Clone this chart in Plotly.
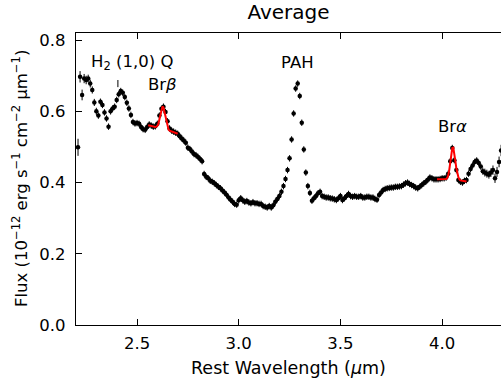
import plotly.graph_objects as go

# Spectrum (rest wavelength in micron, flux in 1e-12 erg/s/cm2/um)
wave = [round(2.21 + 0.01 * i, 2) for i in range(209)]
flux = [
    0.499, 0.697, 0.646, 0.692, 0.688, 0.692, 0.678, 0.660, 0.625, 0.600,
    0.588, 0.627, 0.618, 0.597, 0.580, 0.557, 0.600, 0.608, 0.613, 0.632,
    0.648, 0.657, 0.652, 0.640, 0.624, 0.608, 0.590, 0.570, 0.566, 0.567,
    0.565, 0.556, 0.550, 0.548, 0.556, 0.563, 0.560, 0.557, 0.558, 0.565,
    0.588, 0.607, 0.613, 0.598, 0.572, 0.552, 0.546, 0.543, 0.540, 0.537,
    0.530, 0.524, 0.518, 0.512, 0.498, 0.494, 0.487, 0.480, 0.477, 0.472,
    0.466, 0.460, 0.424, 0.416, 0.412, 0.405, 0.402, 0.398, 0.393, 0.388,
    0.384, 0.378, 0.372, 0.366, 0.358, 0.352, 0.346, 0.340, 0.338, 0.350,
    0.356, 0.350, 0.346, 0.348, 0.344, 0.342, 0.345, 0.342, 0.342, 0.340,
    0.340, 0.334, 0.332, 0.330, 0.334, 0.330, 0.336, 0.346, 0.354, 0.362,
    0.374, 0.390, 0.410, 0.435, 0.468, 0.521, 0.594, 0.664, 0.678, 0.643,
    0.568, 0.493, 0.428, 0.390, 0.371, 0.349, 0.356, 0.362, 0.370, 0.374,
    0.362, 0.360, 0.358, 0.358, 0.356, 0.355, 0.353, 0.351, 0.356, 0.362,
    0.351, 0.356, 0.362, 0.368, 0.362, 0.360, 0.362, 0.360, 0.360, 0.362,
    0.358, 0.358, 0.360, 0.360, 0.358, 0.358, 0.354, 0.352, 0.365, 0.372,
    0.379, 0.382, 0.384, 0.385, 0.386, 0.386, 0.388, 0.388, 0.389, 0.390,
    0.394, 0.398, 0.400, 0.396, 0.393, 0.390, 0.386, 0.384, 0.388, 0.393,
    0.398, 0.402, 0.408, 0.414, 0.412, 0.409, 0.409, 0.409, 0.410, 0.412,
    0.412, 0.414, 0.425, 0.460, 0.497, 0.463, 0.435, 0.407, 0.402, 0.400,
    0.405, 0.407, 0.425, 0.438, 0.448, 0.458, 0.462, 0.455, 0.445, 0.432,
    0.428, 0.425, 0.422, 0.428, 0.435, 0.412, 0.430, 0.458, 0.490,
]
flux_err = [
    0.024, 0.016, 0.015, 0.013, 0.012, 0.011, 0.011, 0.010, 0.010, 0.010,
] + [0.009] * 189 + [0.010, 0.011, 0.011, 0.011, 0.012, 0.013, 0.013, 0.014, 0.015, 0.016]

# Gaussian line fits
brb_wave = [2.555, 2.560, 2.565, 2.570, 2.575, 2.580, 2.585, 2.590, 2.595, 2.600,
            2.605, 2.610, 2.615, 2.620, 2.625, 2.630, 2.635, 2.640, 2.645, 2.650,
            2.655, 2.660, 2.665, 2.670, 2.675, 2.680, 2.685, 2.690, 2.695, 2.700]
brb_fit = [0.561, 0.560, 0.559, 0.558, 0.557, 0.556, 0.556, 0.556, 0.557, 0.559,
           0.565, 0.576, 0.591, 0.606, 0.614, 0.611, 0.598, 0.582, 0.566, 0.555,
           0.549, 0.546, 0.545, 0.544, 0.543, 0.542, 0.540, 0.539, 0.538, 0.537]
bra_wave = [3.975, 3.980, 3.990, 4.000, 4.010, 4.020, 4.025, 4.030, 4.035, 4.040,
            4.045, 4.050, 4.055, 4.060, 4.065, 4.070, 4.075, 4.080, 4.085, 4.090,
            4.100, 4.110, 4.120]
bra_fit = [0.409, 0.409, 0.409, 0.409, 0.409, 0.410, 0.413, 0.420, 0.435, 0.456,
           0.480, 0.497, 0.498, 0.484, 0.461, 0.440, 0.425, 0.415, 0.409, 0.406,
           0.405, 0.404, 0.403]

# Line labels
label_text = ["H<sub>2</sub> (1,0) Q", "Br<i>β</i>", "PAH", "Br<i>α</i>"]
label_x = [2.475, 2.625, 3.291, 4.050]
label_y = [0.738, 0.674, 0.738, 0.557]
h2_pos = 2.406
h2_tick = [0.668, 0.688]

x_ticks = [2.5, 3.0, 3.5, 4.0]
y_ticks = [0.0, 0.2, 0.4, 0.6, 0.8]

FONT = "DejaVu Sans"
FS = 16.5

fig = go.Figure()
fig.add_trace(go.Scatter(
    x=wave, y=flux, mode="markers",
    marker=dict(color="black", size=4.5),
    error_y=dict(type="data", array=flux_err, color="black", thickness=1, width=0),
    showlegend=False,
))
fig.add_trace(go.Scatter(x=brb_wave, y=brb_fit, mode="lines",
                         line=dict(color="#ff0000", width=2), showlegend=False))
fig.add_trace(go.Scatter(x=bra_wave, y=bra_fit, mode="lines",
                         line=dict(color="#ff0000", width=2), showlegend=False))

for t, x, y in zip(label_text, label_x, label_y):
    fig.add_annotation(x=x, y=y, xref="x", yref="y", text=t, showarrow=False,
                       xanchor="center", yanchor="middle",
                       font=dict(family=FONT, size=FS, color="black"))
fig.add_shape(type="line", xref="x", yref="y", x0=h2_pos, x1=h2_pos,
              y0=h2_tick[0], y1=h2_tick[1], line=dict(color="black", width=1))

# axis titles (paper coords relative to plot area: 425 x 292 px)
fig.add_annotation(x=0.5, y=-43 / 292, xref="paper", yref="paper", yanchor="middle",
                   text="Rest Wavelength (<i>μ</i>m)", showarrow=False,
                   font=dict(family=FONT, size=17.5, color="black"))
fig.add_annotation(x=-56 / 425, y=0.5, xref="paper", yref="paper", xanchor="center",
                   yanchor="middle",
                   text="Flux (10<sup>−12</sup> erg s<sup>−1</sup> cm<sup>−2</sup> μm<sup>−1</sup>)",
                   textangle=-90, showarrow=False,
                   font=dict(family=FONT, size=FS, color="black"))

axis_common = dict(showgrid=False, zeroline=False, ticks="inside", ticklen=6,
                   tickwidth=1.3, tickcolor="black", linecolor="black", linewidth=1.3,
                   showline=True,
                   tickfont=dict(family=FONT, size=FS, color="black"))

fig.update_layout(
    width=501, height=385,
    margin=dict(l=76, r=0, t=33, b=60),
    paper_bgcolor="white", plot_bgcolor="white",
    title=dict(text="Average", x=0.5, xref="paper", xanchor="center",
               y=1 - 12 / 385, yref="container", yanchor="middle",
               font=dict(family=FONT, size=20, color="black")),
    xaxis=dict(range=[2.2, 4.2895], tickvals=x_ticks,
               ticktext=[f"{v:.1f}" for v in x_ticks], mirror="ticks",
               ticklabelstandoff=3, **axis_common),
    yaxis=dict(range=[0, 0.82], tickvals=y_ticks,
               ticktext=[f"{v:.1f}" for v in y_ticks], mirror=False,
               ticklabelstandoff=6, **axis_common),
    yaxis2=dict(range=[0, 0.82], overlaying="y", side="right", tickvals=y_ticks,
                showticklabels=False, showgrid=False, zeroline=False, showline=False,
                ticks="inside", ticklen=3, tickwidth=1.3, tickcolor="black"),
)
fig.write_html("out.html")
